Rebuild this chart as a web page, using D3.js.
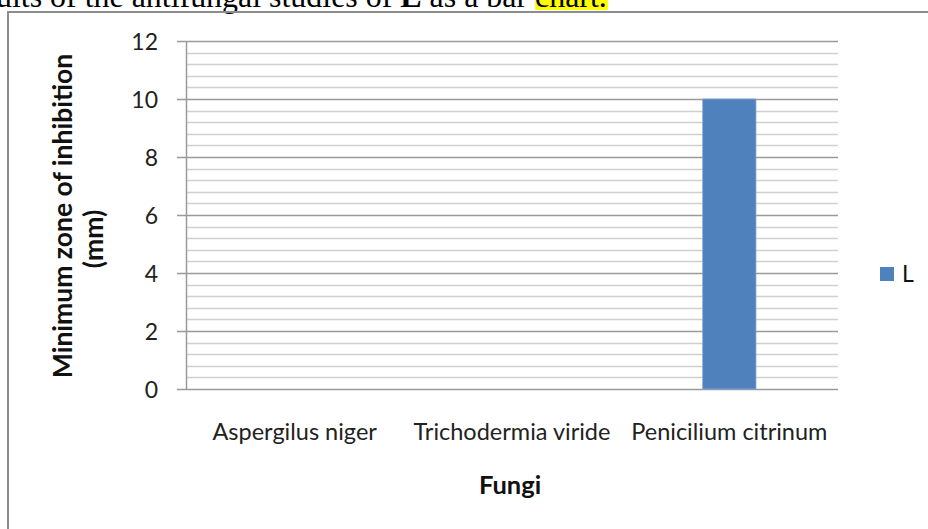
<!DOCTYPE html>
<html>
<head>
<meta charset="utf-8">
<script src="https://cdn.jsdelivr.net/npm/d3@7"></script>
<style>
  body { margin:0; background:#fff; }
  svg { display:block; }
</style>
</head>
<body>
<svg id="chart" width="928" height="529"></svg>
<script>
//----------------------------------------------------------- DATA
var categories = ["Aspergilus niger", "Trichodermia viride", "Penicilium citrinum"];
var seriesName = "L";
var values = [0, 0, 10];
var majorTicks = [0, 2, 4, 6, 8, 10, 12];
var yTitleLines = ["Minimum zone of inhibition", "(mm)"];
var xTitle = "Fungi";

//----------------------------------------------------------- SETUP
var svg = d3.select("#chart"),
	font = "Lato, 'Open Sans', sans-serif",
	plot = {left:186, right:838, top:41, bottom:389},
	barColor = "#4f81bd";

// caption line of the page, cut off at the top
var hl = svg.append("rect")
	.attr("y", 0).attr("height", 10)
	.attr("fill", "#ffff00");
var cap = svg.append("text")
	.attr("x", -4).attr("y", 7)
	.attr("font-family", "'Liberation Serif', 'Times New Roman', serif")
	.attr("font-size", 30).attr("fill", "#000");
cap.append("tspan").text("ults of the antifungal studies of ");
cap.append("tspan").attr("font-weight", "bold").text("L");
cap.append("tspan").text(" as a bar ");
var capLast = cap.append("tspan").text("chart.");
// fit the caption so it ends where the reference line ends
var capW = cap.node().getComputedTextLength();
cap.attr("font-size", 30 * 611 / capW);
var lastW = capLast.node().getComputedTextLength();
hl.attr("x", 607 - lastW).attr("width", lastW + 1);

// chart frame
svg.append("path")
	.attr("d", "M8,540 L8,12 L940,12")
	.attr("fill", "none").attr("stroke", "#8c8c8c").attr("stroke-width", 2);

//----------------------------------------------------------- SCALES
var x = d3.scaleBand().domain(categories)
	.range([plot.left, plot.right]).paddingInner(0.755).paddingOuter(0.3775);
var y = d3.scaleLinear().domain([0, 12]).range([plot.bottom, plot.top]);

// minor gridlines every 0.4
var minor = d3.range(0, 12.001, 0.4).filter(function(v){
	return Math.abs(v/2 - Math.round(v/2)) > 1e-6;
});
svg.append("g").selectAll("line").data(minor).enter().append("line")
	.attr("x1", plot.left).attr("x2", plot.right)
	.attr("y1", function(d){ return Math.round(y(d)) + 0.5; })
	.attr("y2", function(d){ return Math.round(y(d)) + 0.5; })
	.attr("stroke", "#d0d0d0").attr("stroke-width", 1.3);

// major gridlines + y axis
var yAxis = svg.append("g")
	.attr("transform", "translate(" + plot.left + ",0)")
	.call(d3.axisLeft(y).tickValues(majorTicks).tickSize(-(plot.right - plot.left)).tickSizeOuter(0).tickPadding(28));
yAxis.select(".domain").remove();
yAxis.selectAll(".tick line")
	.attr("x1", -9)
	.attr("stroke", "#9a9a9a").attr("stroke-width", 1.3);
yAxis.selectAll(".tick text")
	.attr("font-family", font).attr("font-size", 23).attr("fill", "#222")
	.attr("dy", "0.36em");

// axis line
svg.append("line")
	.attr("x1", plot.left + 0.5).attr("x2", plot.left + 0.5)
	.attr("y1", plot.top).attr("y2", plot.bottom)
	.attr("stroke", "#9a9a9a").attr("stroke-width", 1.5);

//----------------------------------------------------------- BARS
svg.append("g").selectAll("rect").data(values).enter().append("rect")
	.attr("x", function(d, i){ return x(categories[i]); })
	.attr("width", x.bandwidth())
	.attr("y", function(d){ return y(d); })
	.attr("height", function(d){ return y(0) - y(d); })
	.attr("fill", barColor)
	.attr("stroke", function(d){ return d > 0 ? "#7fa6d6" : "none"; })
	.attr("stroke-width", 0.8);

//----------------------------------------------------------- LABELS
svg.append("g").selectAll("text").data(categories).enter().append("text")
	.attr("x", function(d){ return x(d) + x.bandwidth()/2; })
	.attr("y", 440)
	.attr("text-anchor", "middle")
	.attr("font-family", font).attr("font-size", 23.5).attr("fill", "#222")
	.text(function(d){ return d; });

svg.append("text")
	.attr("x", 510).attr("y", 494)
	.attr("text-anchor", "middle")
	.attr("font-family", font).attr("font-size", 25.5).attr("font-weight", "bold").attr("fill", "#111")
	.text(xTitle);

var yTitle = svg.append("text")
	.attr("transform", "rotate(-90)")
	.attr("text-anchor", "middle")
	.attr("font-family", font).attr("font-size", 26.5).attr("font-weight", "bold").attr("fill", "#111");
yTitle.append("tspan").attr("x", -216).attr("y", 72).text(yTitleLines[0]);
yTitle.append("tspan").attr("x", -239).attr("y", 103).text(yTitleLines[1]);

//----------------------------------------------------------- LEGEND
var legend = svg.append("g").attr("transform", "translate(880,267)");
legend.append("rect").attr("width", 14).attr("height", 14).attr("fill", barColor);
legend.append("text").attr("x", 22).attr("y", 15)
	.attr("font-family", font).attr("font-size", 23).attr("fill", "#111")
	.text(seriesName);
</script>
</body>
</html>
